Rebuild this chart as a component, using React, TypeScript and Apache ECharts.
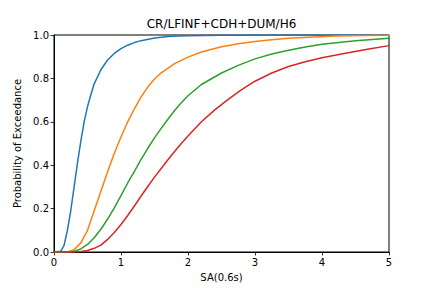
import React, { useEffect, useRef } from "react";
import * as echarts from "echarts";

const titleText = "CR/LFINF+CDH+DUM/H6";
const xName = "SA(0.6s)";
const yName = "Probability of Exceedance";
const xTicks = [0, 1, 2, 3, 4, 5];
const yTicks = [0, 0.2, 0.4, 0.6, 0.8, 1.0];

const blueX = [0, 0.1, 0.15, 0.2, 0.25, 0.3, 0.35, 0.4, 0.45, 0.5, 0.55, 0.6, 0.7, 0.8, 0.9, 1.0, 1.1, 1.2, 1.3, 1.5, 1.75, 2.0, 2.5, 3.0, 4.0, 5.0];
const blueY = [0, 0.003, 0.03, 0.1, 0.19, 0.3, 0.41, 0.51, 0.6, 0.67, 0.725, 0.775, 0.84, 0.885, 0.915, 0.937, 0.953, 0.965, 0.974, 0.986, 0.994, 0.997, 0.999, 1.0, 1.0, 1.0];

const orangeX = [0, 0.2, 0.3, 0.4, 0.5, 0.6, 0.7, 0.8, 0.9, 1.0, 1.1, 1.2, 1.3, 1.4, 1.5, 1.6, 1.8, 2.0, 2.2, 2.5, 2.75, 3.0, 3.25, 3.5, 3.8, 4.2, 4.6, 5.0];
const orangeY = [0, 0, 0.01, 0.042, 0.1, 0.19, 0.28, 0.37, 0.455, 0.53, 0.6, 0.66, 0.715, 0.76, 0.797, 0.826, 0.868, 0.898, 0.922, 0.946, 0.96, 0.97, 0.978, 0.985, 0.99, 0.995, 0.998, 0.999];

const greenX = [0, 0.25, 0.3, 0.4, 0.5, 0.6, 0.7, 0.8, 0.9, 1.0, 1.1, 1.2, 1.3, 1.4, 1.5, 1.6, 1.7, 1.8, 1.9, 2.0, 2.2, 2.5, 2.75, 3.0, 3.25, 3.5, 3.75, 4.0, 4.5, 5.0];
const greenY = [0, 0, 0.003, 0.014, 0.035, 0.066, 0.105, 0.152, 0.203, 0.26, 0.318, 0.372, 0.427, 0.478, 0.526, 0.57, 0.612, 0.652, 0.688, 0.72, 0.772, 0.825, 0.86, 0.89, 0.912, 0.93, 0.945, 0.957, 0.973, 0.985];

const redX = [0, 0.3, 0.4, 0.5, 0.6, 0.7, 0.8, 0.9, 1.0, 1.1, 1.2, 1.3, 1.4, 1.5, 1.6, 1.7, 1.8, 1.9, 2.0, 2.2, 2.4, 2.6, 2.8, 3.0, 3.25, 3.5, 3.75, 4.0, 4.35, 4.7, 5.0];
const redY = [0, 0, 0.002, 0.007, 0.017, 0.032, 0.058, 0.09, 0.127, 0.168, 0.212, 0.258, 0.302, 0.345, 0.385, 0.425, 0.463, 0.5, 0.535, 0.6, 0.655, 0.703, 0.748, 0.787, 0.825, 0.855, 0.877, 0.895, 0.916, 0.935, 0.951];

const pairs = (xs: number[], ys: number[]) => xs.map((x, i) => [x, ys[i]]);

export default function App() {
  const ref = useRef<HTMLDivElement>(null);
  useEffect(() => {
    document.body.style.margin = "0";
    if (!ref.current) return;
    const chart = echarts.init(ref.current, null, { renderer: "svg" });
    const font = "DejaVu Sans";
    const axisCommon = {
      axisLine: { show: true, onZero: false, lineStyle: { color: "#000", width: 1 } },
      axisTick: { show: true, inside: false, length: 3.5, lineStyle: { color: "#000", width: 0.8 } },
      splitLine: { show: false },
      axisLabel: { color: "#000", fontFamily: font, fontSize: 10, margin: 5 },
      nameTextStyle: { color: "#000", fontFamily: font, fontSize: 10 },
    };
    const mk = (name: string, xs: number[], ys: number[], color: string) => ({
      name,
      type: "line",
      data: pairs(xs, ys),
      showSymbol: false,
      symbol: "none",
      smooth: false,
      lineStyle: { color, width: 1.5, join: "round", cap: "round" },
      itemStyle: { color },
    });
    chart.setOption({
      animation: false,
      backgroundColor: "#fff",
      grid: { left: 54, right: 43, top: 35, bottom: 36, show: true, borderColor: "#000", borderWidth: 1, backgroundColor: "transparent" },
      graphic: [
        {
          type: "text",
          x: 221.5,
          y: 24,
          style: { text: titleText, fill: "#000", font: `12px "${font}"`, textAlign: "center", textVerticalAlign: "middle" },
        },
      ],
      xAxis: {
        type: "value",
        min: xTicks[0],
        max: xTicks[xTicks.length - 1],
        interval: 1,
        name: xName,
        nameLocation: "middle",
        nameGap: 20,
        ...axisCommon,
        axisLabel: { ...axisCommon.axisLabel, formatter: (v: number) => String(v) },
      },
      yAxis: {
        type: "value",
        min: yTicks[0],
        max: yTicks[yTicks.length - 1],
        interval: 0.2,
        name: yName,
        nameLocation: "middle",
        nameGap: 29,
        ...axisCommon,
        axisLabel: { ...axisCommon.axisLabel, formatter: (v: number) => v.toFixed(1) },
      },
      series: [
        mk("blue", blueX, blueY, "#1f77b4"),
        mk("orange", orangeX, orangeY, "#ff7f0e"),
        mk("green", greenX, greenY, "#2ca02c"),
        mk("red", redX, redY, "#d62728"),
      ],
    });
    return () => chart.dispose();
  }, []);
  return <div ref={ref} style={{ width: 432, height: 288 }} />;
}
